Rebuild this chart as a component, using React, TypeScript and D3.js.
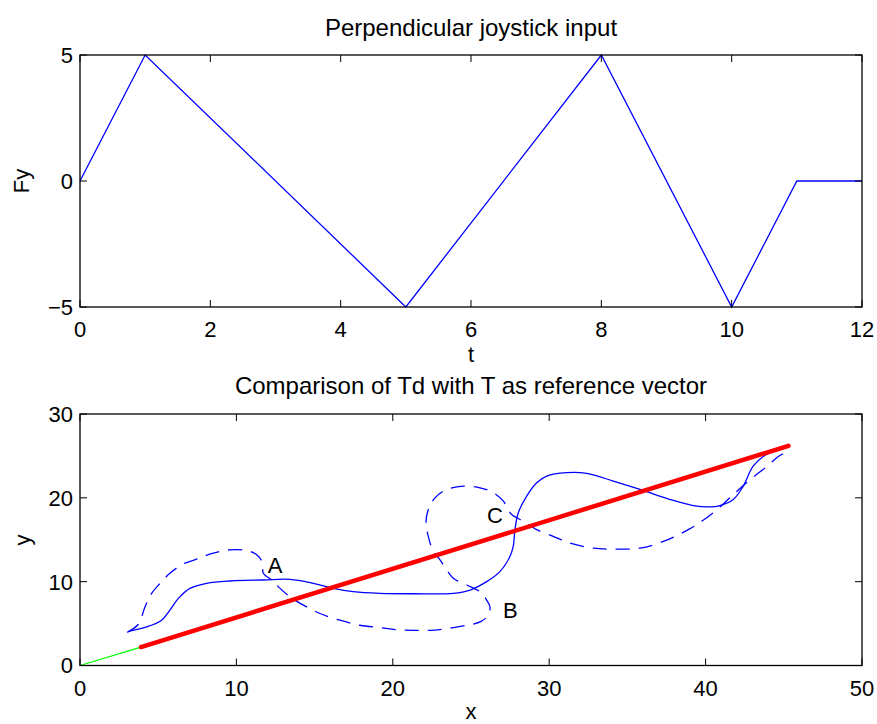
import * as d3 from 'd3';
import React from 'react';

// top plot: joystick input
const tValues = [0, 1, 5, 8, 10, 11, 12];
const fyValues = [0, 5, -5, 5, -5, 0, 0];
const topXTicks = [0, 2, 4, 6, 8, 10, 12];
const topYTicks = [-5, 0, 5];

// bottom plot: trajectories
const solidX = [3.09, 4.26, 5.22, 5.75, 6.29, 7.03, 8.1, 9.59, 11.72, 13.43, 14.92, 16.2, 17.47, 19.18, 21.31, 23.87, 24.94, 26.0, 26.85, 27.49, 27.7, 27.81, 28.02, 28.56, 29.2, 29.84, 31.12, 32.4, 34.1, 35.81, 37.72, 39.21, 40.28, 40.92, 41.77, 42.41, 43.05, 43.91, 44.76, 45.18];
const solidY = [4.08, 4.6, 5.4, 6.6, 8.0, 9.2, 9.8, 10.08, 10.2, 10.28, 9.8, 9.2, 8.8, 8.6, 8.56, 8.6, 9.0, 10.0, 11.2, 13.0, 14.2, 16.2, 18.2, 20.2, 21.8, 22.6, 23.0, 22.92, 22.0, 21.0, 19.8, 19.08, 18.92, 19.08, 19.8, 21.4, 23.8, 25.2, 25.88, 26.2];

const dashX = [3.02, 3.73, 4.16, 4.58, 5.12, 5.75, 6.6, 7.46, 8.52, 9.59, 10.66, 11.3, 11.68, 11.72, 12.26, 12.79, 13.43, 14.28, 15.35, 16.62, 17.9, 19.18, 20.25, 21.31, 22.38, 23.45, 24.73, 25.58, 26.11, 26.21, 26.0, 25.58, 24.73, 23.87, 23.45, 23.02, 22.59, 22.27, 22.12, 22.27, 22.7, 23.45, 24.51, 25.58, 26.43, 27.07, 27.38, 27.6, 28.56, 29.2, 30.26, 31.33, 32.82, 34.1, 35.81, 37.3, 38.89, 39.75, 40.73, 41.43, 42.2, 43.27, 43.91, 44.65, 45.29];
const dashY = [3.96, 4.92, 7.0, 8.6, 9.8, 11.0, 12.12, 12.68, 13.4, 13.8, 13.72, 13.2, 12.2, 11.0, 10.2, 9.2, 8.2, 7.2, 6.2, 5.4, 4.8, 4.52, 4.28, 4.2, 4.2, 4.4, 4.8, 5.2, 6.0, 7.0, 7.8, 8.8, 9.6, 10.4, 11.4, 12.6, 13.6, 15.4, 17.0, 18.6, 20.0, 21.0, 21.4, 21.2, 20.6, 19.6, 18.6, 18.0, 17.0, 16.2, 15.4, 14.6, 14.0, 13.88, 14.0, 14.8, 16.2, 17.2, 18.6, 19.8, 21.12, 22.8, 23.72, 24.92, 25.6];

const greenLineX = [0, 3.9];
const greenLineY = [0, 2.2];
const redLineX = [3.9, 45.3];
const redLineY = [2.2, 26.2];

const labelNames = ['A', 'B', 'C'];
const labelX = [12.0, 27.05, 26.02];
const labelY = [11.04, 5.64, 17.04];

const botXTicks = [0, 10, 20, 30, 40, 50];
const botYTicks = [0, 10, 20, 30];

const W = 877;
const H = 724;
const FONT = '"Liberation Sans", Arial, sans-serif';
const FS = 22;
const TFS = 24;

const zip = (xs: number[], ys: number[]) => xs.map((x, i) => [x, ys[i]] as [number, number]);

type AxesProps = {
  x: d3.ScaleLinear<number, number>;
  y: d3.ScaleLinear<number, number>;
  xTicks: number[];
  yTicks: number[];
};

const Frame = ({ x, y, xTicks, yTicks }: AxesProps) => {
  const [x0, x1] = x.range();
  const [y0, y1] = y.range();
  const tl = 7;
  const fmt = (v: number) => (v < 0 ? '\u2212' + Math.abs(v) : String(v));
  return (
    <g>
      <rect x={x0} y={y1} width={x1 - x0} height={y0 - y1} fill="none" stroke="#000" strokeWidth={1.3} />
      {xTicks.map((t) => (
        <g key={'x' + t}>
          <line x1={x(t)} x2={x(t)} y1={y0} y2={y0 - tl} stroke="#000" strokeWidth={1} />
          <line x1={x(t)} x2={x(t)} y1={y1} y2={y1 + tl} stroke="#000" strokeWidth={1} />
          <text x={x(t)} y={y0 + 30} textAnchor="middle" fontSize={FS} fontFamily={FONT}>{fmt(t)}</text>
        </g>
      ))}
      {yTicks.map((t) => (
        <g key={'y' + t}>
          <line x1={x0} x2={x0 + tl} y1={y(t)} y2={y(t)} stroke="#000" strokeWidth={1} />
          <line x1={x1} x2={x1 - tl} y1={y(t)} y2={y(t)} stroke="#000" strokeWidth={1} />
          <text x={x0 - 7} y={y(t)} dy="0.36em" textAnchor="end" fontSize={FS} fontFamily={FONT}>{fmt(t)}</text>
        </g>
      ))}
    </g>
  );
};

const App = () => {
  // top axes
  const xTop = d3.scaleLinear().domain([0, 12]).range([80, 862]);
  const yTop = d3.scaleLinear().domain([-5, 5]).range([307, 55]);
  // bottom axes
  const xBot = d3.scaleLinear().domain([0, 50]).range([80, 862]);
  const yBot = d3.scaleLinear().domain([0, 30]).range([665.5, 414]);

  const lineTop = d3.line<[number, number]>().x((d) => xTop(d[0])).y((d) => yTop(d[1]));
  const lineBot = d3.line<[number, number]>().x((d) => xBot(d[0])).y((d) => yBot(d[1]));
  const smoothBot = d3.line<[number, number]>()
    .x((d) => xBot(d[0]))
    .y((d) => yBot(d[1]))
    .curve(d3.curveCatmullRom.alpha(0.5));

  return (
    <svg width={W} height={H} style={{ position: 'absolute', left: 0, top: 0, background: '#fff' }}>
      <rect width={W} height={H} fill="#fff" />

      {/* top plot */}
      <text x={471} y={36} textAnchor="middle" fontSize={TFS} fontFamily={FONT}>Perpendicular joystick input</text>
      <path d={lineTop(zip(tValues, fyValues)) ?? ''} fill="none" stroke="#0000ff" strokeWidth={1.3} />
      <Frame x={xTop} y={yTop} xTicks={topXTicks} yTicks={topYTicks} />
      <text x={471} y={362} textAnchor="middle" fontSize={FS} fontFamily={FONT}>t</text>
      <text transform="translate(29,181) rotate(-90)" textAnchor="middle" fontSize={FS} fontFamily={FONT}>Fy</text>

      {/* bottom plot */}
      <text x={471} y={394} textAnchor="middle" fontSize={TFS} fontFamily={FONT}>Comparison of Td with T as reference vector</text>
      <path d={lineBot(zip(greenLineX, greenLineY)) ?? ''} fill="none" stroke="#00ff00" strokeWidth={1.3} />
      <path d={smoothBot(zip(dashX, dashY)) ?? ''} fill="none" stroke="#0000ff" strokeWidth={1.3} strokeDasharray="14 9" />
      <path d={smoothBot(zip(solidX, solidY)) ?? ''} fill="none" stroke="#0000ff" strokeWidth={1.3} />
      <path d={lineBot(zip(redLineX, redLineY)) ?? ''} fill="none" stroke="#ff0000" strokeWidth={4.5} strokeLinecap="round" />
      {labelNames.map((n, i) => (
        <text key={n} x={xBot(labelX[i])} y={yBot(labelY[i])} fontSize={FS} fontFamily={FONT}>{n}</text>
      ))}
      <Frame x={xBot} y={yBot} xTicks={botXTicks} yTicks={botYTicks} />
      <text x={471} y={719} textAnchor="middle" fontSize={FS} fontFamily={FONT}>x</text>
      <text transform="translate(30,540) rotate(-90)" textAnchor="middle" fontSize={FS} fontFamily={FONT}>y</text>
    </svg>
  );
};

export default App;
